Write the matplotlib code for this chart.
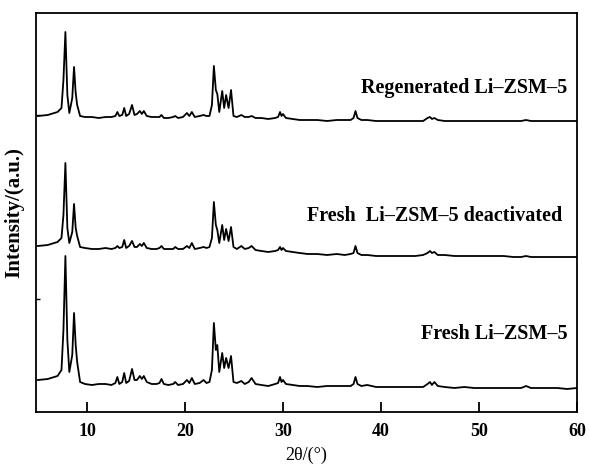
import numpy as np
import matplotlib
matplotlib.use('Agg')
import matplotlib.pyplot as plt

# 2theta positions (deg)
two_theta = [5.0, 6.0, 7.0, 7.4, 7.6, 7.8, 8.0, 8.2, 8.5, 8.68, 8.85, 9.0, 9.3, 9.8,
             10.5, 11.2, 11.9, 12.5, 12.9, 13.1, 13.3, 13.6, 13.8, 14.0, 14.3, 14.6,
             14.85, 15.1, 15.4, 15.6, 15.8, 16.1, 16.6, 17.1, 17.4, 17.6, 17.85, 18.3,
             18.8, 19.0, 19.3, 19.8, 20.2, 20.45, 20.7, 21.0, 21.5, 21.9, 22.2, 22.5,
             22.75, 22.95, 23.15, 23.3, 23.5, 23.8, 24.0, 24.2, 24.45, 24.7, 24.95,
             25.3, 25.75, 26.1, 26.5, 26.8, 27.2, 27.8, 28.5, 29.2, 29.5, 29.7, 29.85,
             30.0, 30.3, 31.0, 31.7, 32.5, 33.5, 34.5, 35.5, 36.3, 36.9, 37.2, 37.4,
             37.6, 38.0, 38.6, 39.5, 40.5, 41.5, 42.5, 43.5, 44.3, 44.75, 45.0, 45.2,
             45.45, 45.8, 46.5, 47.5, 48.5, 49.5, 50.5, 51.5, 52.5, 53.5, 54.3, 54.8,
             55.3, 56.0, 57.0, 58.0, 59.0, 60.0]

fresh = [12, 13, 16, 22, 62, 136, 52, 20, 37, 79, 47, 30, 10, 8,
         7, 8, 8, 7, 9, 15, 8, 10, 19, 9, 11, 23,
         12, 12, 16, 13, 16, 10, 8, 8, 9, 13, 8, 7,
         8, 10, 7, 8, 12, 9, 14, 8, 9, 12, 9, 10,
         22, 69, 42, 47, 20, 39, 24, 34, 24, 36, 10,
         9, 11, 8, 10, 14, 8, 7, 6, 8, 9, 15, 10,
         12, 8, 7, 6, 6, 5, 6, 6, 6, 6, 8, 15,
         8, 6, 7, 5, 5, 5, 5, 5, 5, 8, 10, 7,
         10, 6, 5, 4, 5, 4, 4, 4, 4, 4, 4, 6,
         4, 4, 4, 4, 3, 4]

deactivated = [14, 15, 18, 22, 45, 97, 32, 17, 28, 56, 32, 24, 13, 12,
               11, 11, 12, 11, 12, 14, 12, 13, 20, 12, 14, 19,
               13, 13, 16, 14, 17, 12, 11, 11, 12, 14, 11, 11,
               11, 13, 11, 11, 14, 12, 17, 11, 12, 13, 12, 13,
               22, 58, 35, 30, 17, 35, 20, 31, 19, 33, 13,
               11, 14, 11, 12, 14, 10, 9, 8, 9, 10, 13, 10,
               12, 9, 8, 7, 6, 6, 5, 6, 5, 6, 7, 14,
               7, 5, 5, 4, 4, 4, 4, 4, 5, 7, 9, 7,
               8, 5, 5, 4, 4, 4, 4, 4, 4, 3, 3, 4,
               3, 3, 3, 3, 3, 3]

regenerated = [9, 10, 13, 17, 45, 93, 30, 12, 27, 58, 32, 20, 9, 8,
               8, 7, 8, 8, 9, 13, 9, 10, 17, 9, 11, 20,
               10, 11, 14, 11, 14, 9, 8, 8, 8, 10, 7, 7,
               8, 9, 7, 8, 12, 9, 13, 8, 9, 10, 9, 9,
               20, 59, 35, 31, 13, 34, 17, 30, 17, 35, 9,
               8, 10, 8, 8, 9, 7, 7, 6, 7, 8, 13, 9,
               11, 7, 6, 5, 5, 5, 4, 5, 5, 5, 7, 14,
               7, 5, 5, 4, 4, 4, 4, 4, 4, 7, 8, 6,
               7, 5, 4, 4, 4, 4, 4, 4, 4, 4, 4, 5,
               4, 4, 4, 4, 4, 4]

labels = ['Fresh Li\u2013ZSM\u20135', 'Fresh  Li\u2013ZSM\u20135 deactivated', 'Regenerated Li\u2013ZSM\u20135']

plt.rcParams['font.family'] = ['Liberation Serif', 'DejaVu Serif']

fig = plt.figure(figsize=(5.89, 4.66), dpi=100)
ax = fig.add_axes([36 / 589, 54 / 466, 541 / 589, 399 / 466])

offsets = [20, 152, 287]
label_y = [78, 196, 324]
label_x = [59.0, 58.5, 59.0]
for series, off, lab, ly, lx in zip([fresh, deactivated, regenerated], offsets, labels, label_y, label_x):
    ax.plot(two_theta, np.array(series) + off, color='black', linewidth=1.3)
    ax.text(lx, ly, lab, ha='right', va='center', fontsize=14.5, fontweight='bold')

ax.set_xlim(4.8, 60)
ax.set_ylim(0, 399)
ax.set_xticks([10, 20, 30, 40, 50, 60])
ax.set_yticks([113, 297])
ax.set_yticklabels([])
ax.tick_params(axis='x', direction='in', length=7, width=1.3, labelsize=13, pad=8)
ax.tick_params(axis='y', direction='in', length=3, width=1.0)
for lab in ax.get_xticklabels():
    lab.set_fontweight('bold')
for sp in ax.spines.values():
    sp.set_linewidth(1.3)

ax.set_xlabel('2\u03b8/(\u00b0)', fontsize=13, labelpad=5)
ax.set_ylabel('Intensity/(a.u.)', fontsize=15, fontweight='bold', labelpad=5)

fig.savefig('out.png', dpi=100)
